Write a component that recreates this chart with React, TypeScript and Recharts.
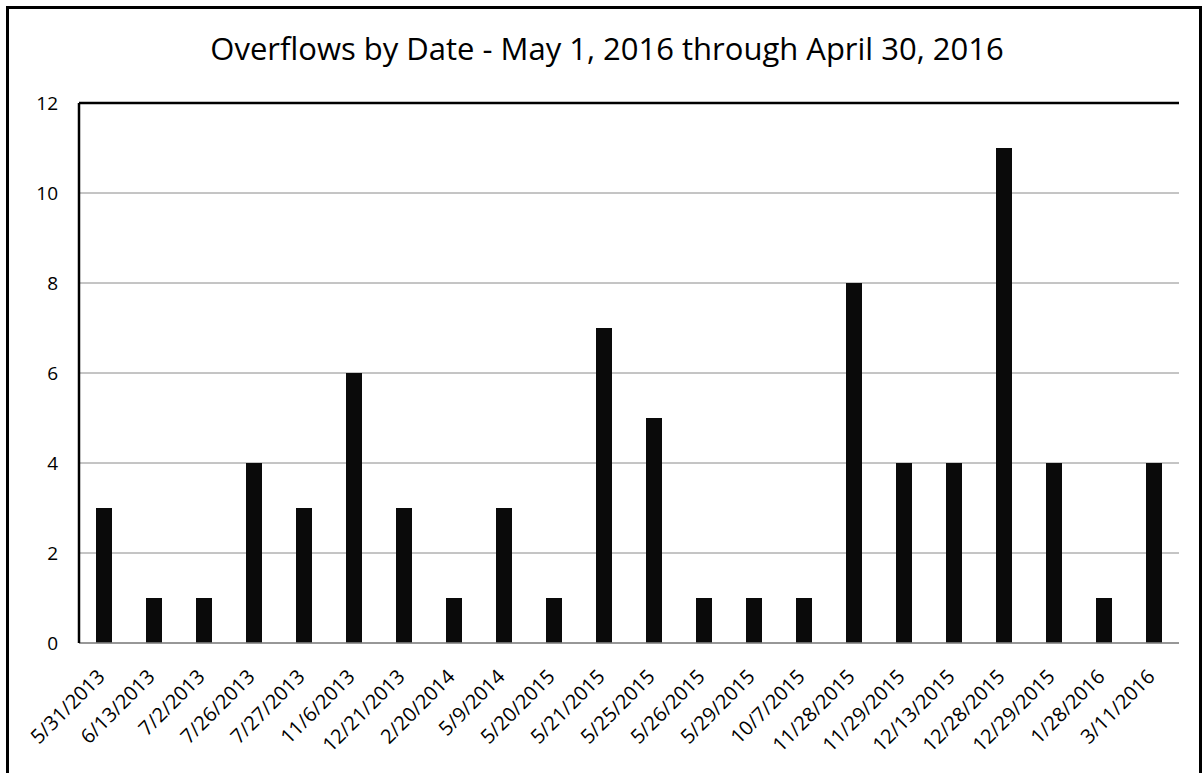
import React from 'react';
import { BarChart, Bar, XAxis, YAxis, CartesianGrid, ReferenceLine } from 'recharts';

const DATES = [
  '5/31/2013', '6/13/2013', '7/2/2013', '7/26/2013', '7/27/2013', '11/6/2013',
  '12/21/2013', '2/20/2014', '5/9/2014', '5/20/2015', '5/21/2015', '5/25/2015',
  '5/26/2015', '5/29/2015', '10/7/2015', '11/28/2015', '11/29/2015', '12/13/2015',
  '12/28/2015', '12/29/2015', '1/28/2016', '3/11/2016',
];
const OVERFLOWS = [3, 1, 1, 4, 3, 6, 3, 1, 3, 1, 7, 5, 1, 1, 1, 8, 4, 4, 11, 4, 1, 4];
const Y_TICKS = [0, 2, 4, 6, 8, 10, 12];
const TITLE = 'Overflows by Date - May 1, 2016 through April 30, 2016';

const data = DATES.map((date, i) => ({ date, count: OVERFLOWS[i] }));

const FONT = '"Open Sans", sans-serif';

function DateTick({ x, y, payload }: { x?: number; y?: number; payload?: { value: string } }) {
  return (
    <g transform={`translate(${(x ?? 0) + 2},${(y ?? 0) + 27})`}>
      <text
        transform="rotate(-45)"
        textAnchor="end"
        fontFamily={FONT}
        fontSize={20}
        fill="#000"
      >
        {payload?.value}
      </text>
    </g>
  );
}

function CountTick({ x, y, payload }: { x?: number; y?: number; payload?: { value: number } }) {
  return (
    <text
      x={(x ?? 0) + 1}
      y={(y ?? 0) + 7}
      textAnchor="end"
      fontFamily={FONT}
      fontSize={19}
      fill="#000"
    >
      {payload?.value}
    </text>
  );
}

export default function App() {
  return (
    <div style={{ position: 'absolute', left: 0, top: 0, width: 1204, height: 773, overflow: 'hidden', background: '#fff' }}>
      <div
        style={{
          position: 'absolute',
          left: 6,
          top: 6,
          width: 1190,
          height: 820,
          border: '3px solid #000',
        }}
      />
      <div
        style={{
          position: 'absolute',
          left: 0,
          width: 1214,
          top: 29,
          textAlign: 'center',
          fontFamily: FONT,
          fontSize: 31,
          lineHeight: '38px',
          color: '#000',
        }}
      >
        {TITLE}
      </div>
      <div style={{ position: 'absolute', left: 0, top: 0 }}>
        <BarChart
          width={1204}
          height={773}
          data={data}
          margin={{ top: 103, right: 25, bottom: 0, left: 0 }}
          barCategoryGap={0}
        >
          <CartesianGrid vertical={false} stroke="#8a8a8a" strokeWidth={1} />
          <XAxis
            dataKey="date"
            interval={0}
            height={130}
            tickLine={false}
            axisLine={{ stroke: '#888', strokeWidth: 1.5 }}
            tick={<DateTick />}
          />
          <YAxis
            width={79}
            domain={[0, 12]}
            ticks={Y_TICKS}
            tickLine={false}
            tickSize={0}
            tickMargin={22}
            axisLine={{ stroke: '#000', strokeWidth: 2.5 }}
            tick={<CountTick />}
          />
          <YAxis
            yAxisId="frame"
            orientation="right"
            width={0}
            domain={[0, 12]}
            tick={false}
            tickLine={false}
            axisLine={{ stroke: '#000', strokeWidth: 2.5 }}
          />
          <ReferenceLine y={12} stroke="#000" strokeWidth={2.5} />
          <Bar dataKey="count" fill="#0a0a0a" barSize={16} isAnimationActive={false} />
        </BarChart>
      </div>
    </div>
  );
}
